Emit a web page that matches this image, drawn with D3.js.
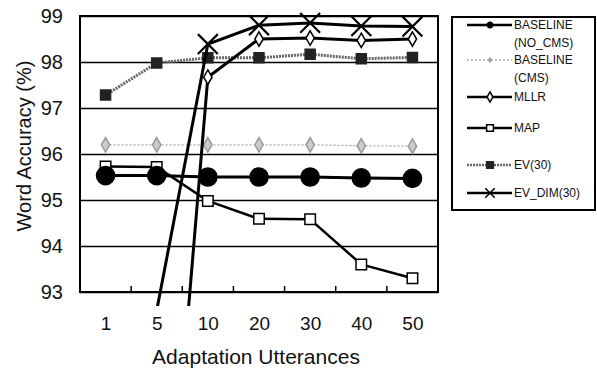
<!DOCTYPE html>
<html>
<head>
<meta charset="utf-8">
<script src="https://cdn.jsdelivr.net/npm/d3@7"></script>
<style>
  body { margin: 0; background: #fff; }
  text { font-family: Arial, "Liberation Sans", sans-serif; fill: #111; }
</style>
</head>
<body>
<svg id="chart" width="597" height="371"></svg>
<script>
const categories = ['1', '5', '10', '20', '30', '40', '50'];
const yTicks = [93, 94, 95, 96, 97, 98, 99];

const baselineNoCms = [95.53, 95.53, 95.5, 95.5, 95.5, 95.48, 95.47];
const baselineCms = [96.2, 96.2, 96.2, 96.2, 96.2, 96.18, 96.17];
const mllr = [80, 84.4, 97.67, 98.5, 98.52, 98.47, 98.5];
const map = [95.73, 95.72, 94.98, 94.59, 94.58, 93.6, 93.3];
const ev30 = [97.28, 97.98, 98.09, 98.09, 98.17, 98.07, 98.1];
const evDim30 = [88, 92.6, 98.39, 98.8, 98.85, 98.78, 98.77];

const svg = d3.select('#chart');
const plotLeft = 80, plotRight = 438, plotTop = 16, plotBottom = 292;

const x = d3.scalePoint().domain(categories).range([plotLeft, plotRight]).padding(0.5);
const band = d3.scaleBand().domain(categories).range([plotLeft, plotRight]);
const y = d3.scaleLinear().domain([93, 99]).range([plotBottom, plotTop]);

// gridlines
svg.append('g')
    .attr('transform', `translate(${plotLeft},0)`)
    .call(d3.axisLeft(y).tickValues(yTicks).tickSize(-(plotRight - plotLeft)).tickFormat(''))
    .call(g => g.select('.domain').remove())
    .selectAll('line').attr('stroke', '#000').attr('stroke-width', 1.6);

// frame
svg.append('rect')
    .attr('x', plotLeft).attr('y', plotTop)
    .attr('width', plotRight - plotLeft).attr('height', plotBottom - plotTop)
    .attr('fill', 'none').attr('stroke', '#000').attr('stroke-width', 2);

// small ticks between categories
svg.append('g').selectAll('line')
  .data(categories.slice(1))
  .join('line')
    .attr('x1', d => band(d)).attr('x2', d => band(d))
    .attr('y1', plotBottom).attr('y2', plotBottom - 6)
    .attr('stroke', '#000').attr('stroke-width', 1.5);

// y labels
svg.append('g')
    .attr('transform', `translate(${plotLeft - 17},0)`)
    .call(d3.axisLeft(y).tickValues(yTicks).tickFormat(d3.format('d')).tickSize(0).tickPadding(0))
    .call(g => g.select('.domain').remove())
    .selectAll('text')
    .style('font-size', '20px')
    .attr('font-family', 'Arial, "Liberation Sans", sans-serif');

// x labels
svg.append('g')
    .attr('transform', `translate(0,${plotBottom + 24})`)
    .call(d3.axisBottom(x).tickSize(0).tickPadding(0))
    .call(g => g.select('.domain').remove())
    .selectAll('text')
    .style('font-size', '19px')
    .attr('font-family', 'Arial, "Liberation Sans", sans-serif');

svg.append('text')
    .attr('x', 256).attr('y', 364)
    .attr('text-anchor', 'middle')
    .style('font-size', '21px')
    .text('Adaptation Utterances');

svg.append('text')
    .attr('transform', 'translate(31,146) rotate(-90)')
    .attr('text-anchor', 'middle')
    .style('font-size', '20px')
    .text('Word Accuracy (%)');

const series = [
  { name: ['BASELINE', '(NO_CMS)'], values: baselineNoCms, stroke: '#000', width: 3, dash: null,
    symbol: d3.symbolCircle, size: 260, fill: '#000', mstroke: '#000', legendY: 25, legendSize: 25 },
  { name: ['BASELINE', '(CMS)'], values: baselineCms, stroke: '#aaa', width: 1.3, dash: '2,2',
    symbol: d3.symbolDiamond, size: 60, fill: '#ccc', mstroke: '#999', legendY: 60, legendSize: 4 },
  { name: ['MLLR'], values: mllr, stroke: '#000', width: 3, dash: null,
    symbol: d3.symbolDiamond, size: 60, fill: '#fff', mstroke: '#000', legendY: 97, legendSize: 30 },
  { name: ['MAP'], values: map, stroke: '#000', width: 2.5, dash: null,
    symbol: d3.symbolSquare, size: 110, fill: '#fff', mstroke: '#000', legendY: 128, legendSize: 45 },
  { name: ['EV(30)'], values: ev30, stroke: '#666', width: 3, dash: '2,1',
    symbol: d3.symbolSquare, size: 100, fill: '#222', mstroke: '#222', legendY: 165, legendSize: 45 },
  { name: ['EV_DIM(30)'], values: evDim30, stroke: '#000', width: 3, dash: null,
    symbol: d3.symbolX, size: 260, fill: 'none', mstroke: '#000', legendY: 193, legendSize: 60 }
];

// lines run a little past the bottom axis, markers stay inside the plot
svg.append('clipPath').attr('id', 'clipLines')
  .append('rect').attr('x', plotLeft).attr('y', 0).attr('width', plotRight - plotLeft + 10).attr('height', 306);
svg.append('clipPath').attr('id', 'clipMarks')
  .append('rect').attr('x', plotLeft).attr('y', 0).attr('width', plotRight - plotLeft + 10).attr('height', plotBottom + 3);

const line = d3.line()
    .x((d, i) => x(categories[i]))
    .y(d => y(d));

const drawOrder = [3, 0, 1, 4, 2, 5];
const plot = svg.append('g');

drawOrder.forEach(k => {
  const s = series[k];
  const g = plot.append('g');
  g.append('path')
      .datum(s.values)
      .attr('clip-path', 'url(#clipLines)')
      .attr('fill', 'none')
      .attr('stroke', s.stroke)
      .attr('stroke-width', s.width)
      .attr('stroke-dasharray', s.dash)
      .attr('stroke-linejoin', 'round')
      .attr('d', line);
  g.append('g').attr('clip-path', 'url(#clipMarks)')
    .selectAll('path')
    .data(s.values)
    .join('path')
      .attr('transform', (d, i) => `translate(${x(categories[i])},${y(d)})`)
      .attr('d', d3.symbol(s.symbol, s.size))
      .attr('fill', s.fill)
      .attr('stroke', s.mstroke)
      .attr('stroke-width', s.symbol === d3.symbolX ? 2.2 : 1.5);
});

// legend
const legend = svg.append('g');
legend.append('rect')
    .attr('x', 452).attr('y', 17).attr('width', 143).attr('height', 193)
    .attr('fill', '#fff').attr('stroke', '#000').attr('stroke-width', 2);

series.forEach(s => {
  const g = legend.append('g').attr('transform', `translate(0,${s.legendY})`);
  g.append('line')
      .attr('x1', 467).attr('x2', 512)
      .attr('stroke', s.stroke)
      .attr('stroke-width', Math.min(s.width, 2.5))
      .attr('stroke-dasharray', s.dash);
  g.append('path')
      .attr('transform', 'translate(490,0)')
      .attr('d', d3.symbol(s.symbol, s.legendSize))
      .attr('fill', s.fill)
      .attr('stroke', s.mstroke)
      .attr('stroke-width', 1.5);
  s.name.forEach((t, j) => {
    g.append('text')
        .attr('x', 514).attr('y', 4 + j * 18)
        .style('font-size', '12px')
        .text(t);
  });
});
</script>
</body>
</html>
